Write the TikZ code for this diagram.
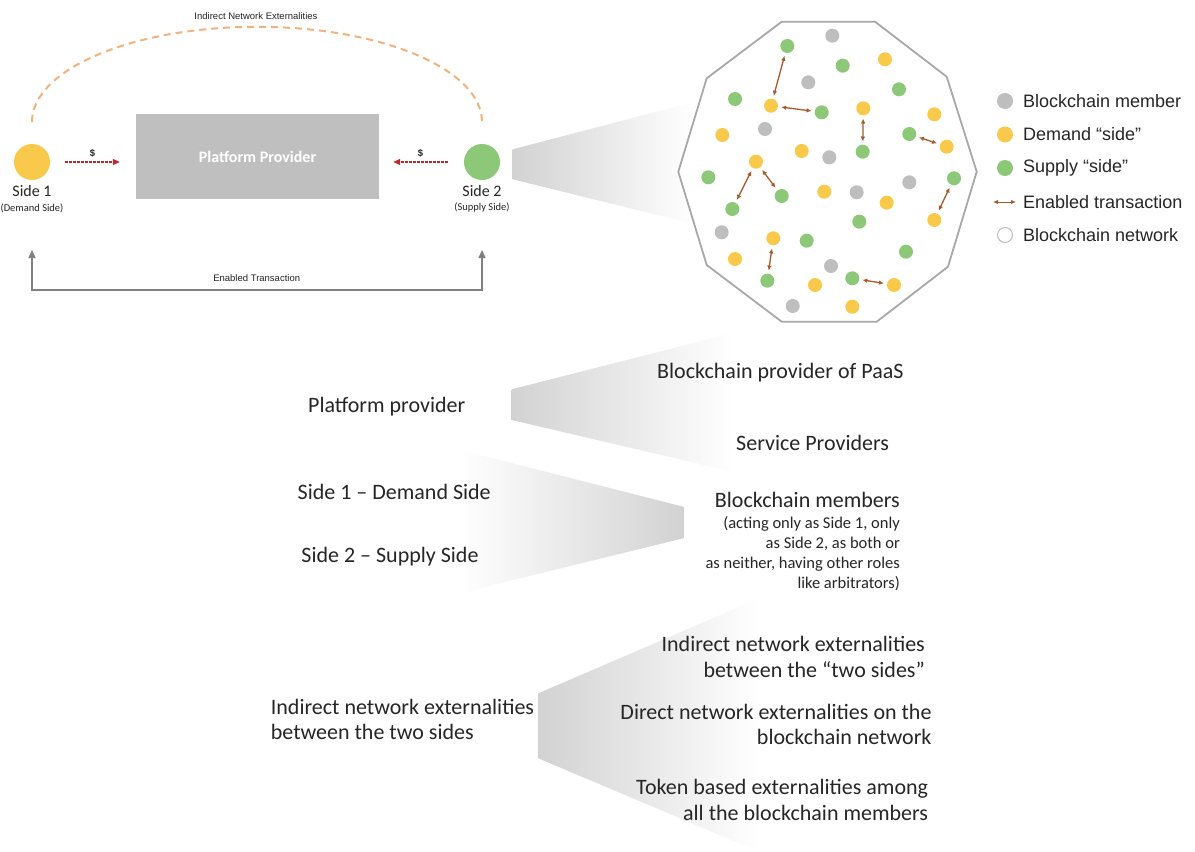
\documentclass[tikz,border=0pt]{standalone}
\usepackage{fontspec}
\setmainfont{Carlito}
\newfontfamily\arialf{Liberation Sans}
\usetikzlibrary{arrows.meta,shapes.geometric}

\definecolor{sideyellow}{HTML}{F8C94A}
\definecolor{sidegreen}{HTML}{8DC878}
\definecolor{membergray}{HTML}{BEBEBE}
\definecolor{txbrown}{HTML}{A65A2E}
\definecolor{moneyred}{HTML}{C0282D}
\definecolor{extorange}{HTML}{F2B27F}
\definecolor{boxgray}{HTML}{BFBFBF}
\definecolor{netgray}{HTML}{A8A8A8}
\definecolor{linegray}{HTML}{808080}
\definecolor{ink}{HTML}{262626}
\definecolor{fungray}{HTML}{D2D2D2}

\tikzset{
  sidedot/.style={circle, minimum size=36pt, inner sep=0pt},
  sidename/.style={font=\fontsize{16}{19}\selectfont, text=ink, inner sep=0pt},
  sidenote/.style={font=\fontsize{10.5}{12}\selectfont, text=ink, inner sep=0pt},
  ppbox/.style={fill=boxgray, minimum width=243pt, minimum height=85pt, inner sep=0pt,
    text=white, font=\fontsize{16}{19}\selectfont\bfseries},
  smalllbl/.style={font=\arialf\fontsize{9.5}{11}\selectfont, text=ink, inner sep=1pt},
  money/.style={moneyred, line width=1.2pt, dash pattern=on 2.5pt off 1.5pt,
    -{Triangle[length=7pt,width=6pt]}},
  extdash/.style={extorange, line width=2pt, dash pattern=on 7pt off 5pt},
  trans/.style={linegray, line width=1.3pt,
    {Triangle[length=8pt,width=7pt]}-{Triangle[length=8pt,width=7pt]}},
  netline/.style={netgray, line width=1.8pt, line join=miter},
  memdot/.style={circle, fill=membergray, minimum size=14pt, inner sep=0pt},
  demdot/.style={circle, fill=sideyellow, minimum size=14pt, inner sep=0pt},
  supdot/.style={circle, fill=sidegreen, minimum size=14pt, inner sep=0pt},
  tx/.style={txbrown, line width=1.3pt, shorten <=3pt, shorten >=3pt,
    {Latex[length=5pt,width=4.5pt]}-{Latex[length=5pt,width=4.5pt]}},
  legtxt/.style={font=\arialf\fontsize{18}{21}\selectfont, text=ink, anchor=west, inner sep=0pt},
  bigtxt/.style={font=\fontsize{22}{25}\selectfont, text=ink, inner sep=0pt},
  subtxt/.style={font=\fontsize{16.5}{20}\selectfont, text=ink, inner sep=0pt, align=right},
}

\begin{document}
\begin{tikzpicture}[x=1pt,y=-1pt]
\useasboundingbox (0,0) rectangle (1195,852);
\fill[white] (0,0) rectangle (1195,852);

% ---------- two-sided platform ----------
\node[sidedot, fill=sideyellow] (s1) at (32,162) {};
\node[sidename] (s1name) at (32,190.7) {Side 1};
\node[sidenote] (s1note) at (32,208) {(Demand Side)};
\node[sidedot, fill=sidegreen] (s2) at (482,162) {};
\node[sidename] (s2name) at (482,190.7) {Side 2};
\node[sidenote] (s2note) at (482,208) {(Supply Side)};
\node[ppbox] (pp) at (257.5,156.7) {Platform Provider};

\draw[money] ([xshift=15pt]s1.east) -- ([xshift=-16pt]s1.east -| pp.west)
  node[midway, above=3pt, smalllbl, font=\arialf\bfseries\fontsize{9.5}{11}\selectfont] (d1lbl) {\$};
\draw[money] ([xshift=-16pt]s2.west) -- ([xshift=14pt]s2.west -| pp.east)
  node[midway, above=3pt, smalllbl, font=\arialf\bfseries\fontsize{9.5}{11}\selectfont] (d2lbl) {\$};

\draw[extdash] ([yshift=22pt]s1.north) arc[start angle=180, end angle=0, x radius=225pt, y radius=95pt];
\node[smalllbl] (extlbl) at (256,15.7) {Indirect Network Externalities};

\coordinate (t1) at (32,250);
\coordinate (t2) at (482,250);
\draw[trans] (t1) -- (32,290) -- (482,290) -- (t2);
\node[smalllbl] (txlbl) at (256.7,278.3) {Enabled Transaction};

% ---------- zoom funnel into the network ----------
\shade[left color=fungray, right color=white]
  (512.7,149.3) -- (690,103) -- (694,224) -- (512.7,179.3) -- cycle;

% ---------- blockchain network ----------
\draw[netline, fill=white] (781.7,21.7) -- (875,21.7) -- (946.7,76.7) -- (976.7,171.7)
  -- (948,266.7) -- (876.7,321.7) -- (781.7,321.7) -- (706.7,265) -- (678.3,171.7)
  -- (706.7,78.3) -- cycle;

\foreach \n/\x/\y in {m1/832.3/35.7, m2/808.3/82.3, m3/765/129, m4/829.3/157.3,
  m5/856.7/192.3, m6/909.3/182.3, m7/721.7/232.3, m8/831/266, m9/792.7/306}
  \node[memdot] (\n) at (\x,\y) {};
\foreach \n/\x/\y in {p1/787.3/46, p2/842.7/65.7, p3/899/89.3, p4/735/99,
  p5/821.7/112.3, p6/909.3/134, p7/862.7/151.7, p8/708.3/177.3, p9/781.7/196,
  p10/954/178.3, p11/732.3/209, p12/859.3/221.7, p13/806.7/240.7, p14/906/251.7,
  p15/767.3/280.7, p16/852.3/278.3}
  \node[supdot] (\n) at (\x,\y) {};
\foreach \n/\x/\y in {d1/885/59.3, d2/771/105.7, d3/863.3/108.3, d4/934.3/114.3,
  d5/722.3/135, d6/801.7/151, d7/946.7/146.7, d8/756/161.7, d9/824.3/191.7,
  d10/886.7/202.7, d11/934.3/220, d12/773.3/238.3, d13/735/259, d14/815/285,
  d15/894/285, d16/852.3/306.7}
  \node[demdot] (\n) at (\x,\y) {};

\draw[tx] (p1) -- (d2);
\draw[tx] (d2) -- (p5);
\draw[tx] (d3) -- (p7);
\draw[tx] (p6) -- (d7);
\draw[tx] (d8) -- (p11);
\draw[tx] (d8) -- (p9);
\draw[tx] (p10) -- (d11);
\draw[tx] (d12) -- (p15);
\draw[tx] (p16) -- (d15);

% ---------- legend ----------
\node[memdot, minimum size=16pt] (lm) at (1005,101) {};
\node[legtxt] (lmt) at (1023,101) {Blockchain member};
\node[demdot, minimum size=16pt] (ld) at (1005,134.5) {};
\node[legtxt] (ldt) at (1023,134.5) {Demand “side”};
\node[supdot, minimum size=16pt] (ls) at (1005,168) {};
\node[legtxt] (lst) at (1023,168) {Supply “side”};
\coordinate (la1) at (993,202);
\coordinate (la2) at (1016,202);
\draw[tx, shorten <=0pt, shorten >=0pt, line width=1pt] (la1) -- (la2);
\node[legtxt] (lat) at (1023,202) {Enabled transaction};
\node[circle, draw=membergray, line width=1pt, minimum size=15pt, inner sep=0pt] (ln) at (1005,235) {};
\node[legtxt] (lnt) at (1023,235) {Blockchain network};

% ---------- mapping of roles ----------
\shade[left color=fungray, right color=white]
  (511.7,389.3) -- (733,333) -- (733,471.7) -- (511.7,420) -- cycle;
\shade[left color=white, right color=fungray]
  (460,450) -- (683.3,506.7) -- (683.3,538.3) -- (460,593) -- cycle;
\shade[left color=fungray, right color=white]
  (538.3,693.3) -- (760,598) -- (760,852) -- (538.3,758.3) -- cycle;

\node[bigtxt] (rpp) at (386.7,406.7) {Platform provider};
\node[bigtxt, anchor=west] (rpaas) at (657,372.7) {Blockchain provider of PaaS};
\node[bigtxt, anchor=west] (rsp) at (736,442.7) {Service Providers};

\node[bigtxt] (rs1) at (394.2,491.7) {Side 1 – Demand Side};
\node[bigtxt] (rs2) at (390,556.7) {Side 2 – Supply Side};
\node[bigtxt, anchor=east] (rbm) at (900,500) {Blockchain members};
\node[subtxt, anchor=east] (rbmnote) at (900,553.3)
  {(acting only as Side 1, only\\as Side 2, as both or\\as neither, having other roles\\like arbitrators)};

\node[bigtxt, anchor=west, align=left, font=\fontsize{22}{25}\selectfont] (rind) at (270.7,719.2)
  {Indirect network externalities\\between the two sides};
\node[bigtxt, anchor=east, align=right, font=\fontsize{22}{26.5}\selectfont] (rx1) at (925,656.7)
  {Indirect network externalities\\between the “two sides”};
\node[bigtxt, anchor=east, align=right, font=\fontsize{22}{25}\selectfont] (rx2) at (931.7,724.2)
  {Direct network externalities on the\\blockchain network};
\node[bigtxt, anchor=east, align=right, font=\fontsize{22}{26.5}\selectfont] (rx3) at (928.3,800)
  {Token based externalities among\\all the blockchain members};
\end{tikzpicture}
\end{document}
